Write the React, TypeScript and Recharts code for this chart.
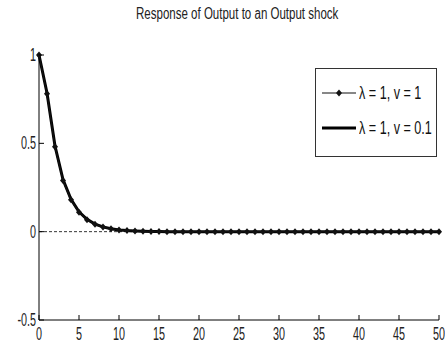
import { LineChart, Line, XAxis, YAxis, ReferenceLine } from 'recharts';

const periods = Array.from({ length: 51 }, (_, i) => i);

// lambda = 1, v = 1 (thin line with markers)
const respV1 = [
    1, 0.78, 0.48, 0.29, 0.18, 0.11, 0.068, 0.042, 0.026, 0.016,
    0.01, 0.006, 0.004, 0.002, 0.001, 0.001, 0, 0, 0, 0,
    0, 0, 0, 0, 0, 0, 0, 0, 0, 0,
    0, 0, 0, 0, 0, 0, 0, 0, 0, 0,
    0, 0, 0, 0, 0, 0, 0, 0, 0, 0, 0,
];

// lambda = 1, v = 0.1 (thick line)
const respV01 = [
    1, 0.785, 0.485, 0.295, 0.183, 0.112, 0.07, 0.043, 0.027, 0.017,
    0.01, 0.006, 0.004, 0.002, 0.001, 0.001, 0, 0, 0, 0,
    0, 0, 0, 0, 0, 0, 0, 0, 0, 0,
    0, 0, 0, 0, 0, 0, 0, 0, 0, 0,
    0, 0, 0, 0, 0, 0, 0, 0, 0, 0, 0,
];

const xTicks = [0, 5, 10, 15, 20, 25, 30, 35, 40, 45, 50];
const yTicks = [-0.5, 0, 0.5, 1];
const yTickLabels = ['-0.5', '0', '0.5', '1'];
const seriesNames = ['λ = 1, v = 1', 'λ = 1, v = 0.1'];

const data = periods.map((t, i) => ({ t, a: respV1[i], b: respV01[i] }));

const FONT = '"Liberation Sans", Arial, sans-serif';
const SQUEEZE = 0.6;

// narrow text, like the old matlab export
const NarrowText = ({ x, y, anchor, size, children }: any) => (
    <text
        transform={`translate(${x},${y}) scale(${SQUEEZE},1)`}
        textAnchor={anchor}
        fontSize={size}
        fontFamily={FONT}
        fill="#222"
    >
        {children}
    </text>
);

const BottomTick = (props: any) => {
    const { x, y, payload } = props;
    return (
        <g>
            <line x1={x} y1={y} x2={x} y2={y - 5} stroke="#000" strokeWidth={1} />
            <NarrowText x={x} y={y + 20} anchor="middle" size={18}>
                {payload.value}
            </NarrowText>
        </g>
    );
};

const TopTick = (props: any) => {
    const { x, y } = props;
    return <line x1={x} y1={y} x2={x} y2={y + 5} stroke="#000" strokeWidth={1} />;
};

const LeftTick = (props: any) => {
    const { x, y, payload } = props;
    const idx = yTicks.indexOf(payload.value);
    return (
        <g>
            <line x1={x} y1={y} x2={x + 5} y2={y} stroke="#000" strokeWidth={1} />
            <NarrowText x={x - 3} y={y + 6} anchor="end" size={18}>
                {yTickLabels[idx]}
            </NarrowText>
        </g>
    );
};

const RightTick = (props: any) => {
    const { x, y } = props;
    return <line x1={x} y1={y} x2={x - 5} y2={y} stroke="#000" strokeWidth={1} />;
};

const Diamond = (props: any) => {
    const { cx, cy } = props;
    if (cx == null || cy == null) return null;
    return <path d={`M${cx},${cy - 3.5} L${cx + 3},${cy} L${cx},${cy + 3.5} L${cx - 3},${cy} Z`} fill="#111" />;
};

const narrowHtml = {
    display: 'inline-block',
    transform: `scaleX(${SQUEEZE + 0.1})`,
    transformOrigin: 'left center',
    whiteSpace: 'nowrap' as const,
};

const LegendBox = () => (
    <div
        style={{
            position: 'absolute',
            left: 315,
            top: 68,
            width: 122,
            height: 89,
            border: '1px solid #333',
            background: '#fff',
            fontFamily: FONT,
            fontSize: 18,
            color: '#111',
            boxSizing: 'border-box',
        }}
    >
        <div style={{ display: 'flex', alignItems: 'center', height: 48, paddingLeft: 6 }}>
            <svg width={34} height={10} style={{ flex: 'none' }}>
                <line x1={0} y1={5} x2={34} y2={5} stroke="#111" strokeWidth={1.2} />
                <path d="M17,1.5 L20,5 L17,8.5 L14,5 Z" fill="#111" />
            </svg>
            <span style={{ ...narrowHtml, marginLeft: 3 }}>{seriesNames[0]}</span>
        </div>
        <div style={{ display: 'flex', alignItems: 'center', height: 22, paddingLeft: 6 }}>
            <svg width={34} height={10} style={{ flex: 'none' }}>
                <line x1={0} y1={5} x2={34} y2={5} stroke="#000" strokeWidth={3} />
            </svg>
            <span style={{ ...narrowHtml, marginLeft: 3 }}>{seriesNames[1]}</span>
        </div>
    </div>
);

export default function App() {
    return (
        <div style={{ position: 'absolute', left: 0, top: 0, width: 445, height: 358, background: '#fff' }}>
            <div
                style={{
                    position: 'absolute',
                    top: 5,
                    left: 136,
                    fontFamily: FONT,
                    fontSize: 16,
                    color: '#222',
                    ...narrowHtml,
                    transform: 'scaleX(0.72)',
                }}
            >
                Response of Output to an Output shock
            </div>
            <LineChart width={445} height={358} data={data} margin={{ top: 55, right: 6, left: 0, bottom: 0 }}>
                <XAxis
                    dataKey="t"
                    type="number"
                    domain={[0, 50]}
                    ticks={xTicks}
                    height={38}
                    tickSize={0}
                    tickMargin={0}
                    tick={<BottomTick />}
                    stroke="#000"
                    interval={0}
                />
                <XAxis
                    xAxisId="top"
                    orientation="top"
                    dataKey="t"
                    type="number"
                    domain={[0, 50]}
                    ticks={xTicks}
                    height={0}
                    tickSize={0}
                    tickMargin={0}
                    tick={<TopTick />}
                    stroke="#000"
                    interval={0}
                />
                <YAxis
                    type="number"
                    domain={[-0.5, 1]}
                    ticks={yTicks}
                    width={39}
                    tickSize={0}
                    tickMargin={0}
                    tick={<LeftTick />}
                    stroke="#000"
                    interval={0}
                />
                <YAxis
                    yAxisId="right"
                    orientation="right"
                    type="number"
                    domain={[-0.5, 1]}
                    ticks={yTicks}
                    width={0}
                    tickSize={0}
                    tickMargin={0}
                    tick={<RightTick />}
                    stroke="#000"
                    interval={0}
                />
                <ReferenceLine y={0} stroke="#000" strokeDasharray="3 2" strokeWidth={0.8} />
                <Line
                    type="linear"
                    dataKey="b"
                    stroke="#000"
                    strokeWidth={3}
                    dot={false}
                    isAnimationActive={false}
                />
                <Line
                    type="linear"
                    dataKey="a"
                    stroke="#111"
                    strokeWidth={1.3}
                    dot={<Diamond />}
                    activeDot={false}
                    isAnimationActive={false}
                />
            </LineChart>
            <LegendBox />
        </div>
    );
}
